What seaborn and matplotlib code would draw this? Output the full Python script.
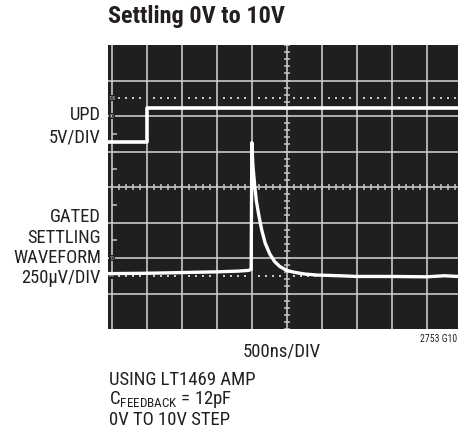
import numpy as np
import pandas as pd
import seaborn as sns
import matplotlib.pyplot as plt

# scope screen coordinates are in divisions (10 x 8)
upd_x = [-0.11, 1.0, 1.0, 9.89]
upd_y = [5.26, 5.26, 6.22, 6.22]

settle_x = [-0.11, 1.0, 2.0, 3.0, 3.6, 3.9, 3.98, 4.0, 4.03, 4.08, 4.13, 4.2,
            4.28, 4.38, 4.51, 4.65, 4.8, 5.0, 5.2, 5.5, 5.85, 6.5, 7.0, 8.0, 9.0, 9.5, 9.89]
settle_y = [1.56, 1.57, 1.59, 1.61, 1.63, 1.65, 1.68, 5.25, 4.6, 4.05, 3.6, 3.2,
            2.8, 2.42, 2.12, 1.9, 1.76, 1.65, 1.6, 1.55, 1.52, 1.5, 1.48, 1.48, 1.47, 1.5, 1.48]

left_labels = ["UPD", "5V/DIV", "GATED", "SETTLING", "WAVEFORM", "250µV/DIV"]
left_label_y = [115, 137, 217, 238, 258, 278]
marker_labels = ["100", "90", "10", "0%"]
marker_y = [6.5, 6.0, 2.0, 1.5]

sns.set_theme(style="dark")
plt.rcParams['font.family'] = ['Roboto Condensed', 'Liberation Sans Narrow', 'Roboto', 'DejaVu Sans']

W, H = 458, 434
fig = plt.figure(figsize=(W / 100, H / 100), dpi=100)
fig.patch.set_facecolor("white")
ax = fig.add_axes([108 / W, (H - 329) / H, 350 / W, 284 / H])
ax.set_facecolor("#1f1f1f")
ax.set_xlim(-0.11, 9.89)
ax.set_ylim(0, 8)

grid_col = "#c8c8c8"
for gx in range(0, 10):
    ax.axvline(gx, color=grid_col, lw=1.2, zorder=1)
for gy in range(1, 8):
    ax.axhline(gy, color=grid_col, lw=1.2, zorder=1)

# center line ticks
tx = np.arange(0, 10.01, 0.2)
ax.vlines(tx, 4 - 0.09, 4 + 0.09, color=grid_col, lw=1.1, zorder=1)
ty = np.arange(0, 8.01, 0.2)
ax.hlines(ty, 5 - 0.09, 5 + 0.09, color=grid_col, lw=1.1, zorder=1)
# half-division marks on left graticule line
ax.hlines([2.5, 3.5, 4.5, 5.5], 0, 0.15, color=grid_col, lw=1.1, zorder=1)

# dotted 0% / 100% lines
dots = [k + j * 0.2 for k in range(0, 10) for j in range(1, 5)]
dots = [d for d in dots if d < 9.89]
for yy in (6.5, 1.5):
    ax.scatter(dots, [yy] * len(dots), s=3, marker="s", color=grid_col, linewidths=0, zorder=1)

for lab, yy in zip(marker_labels, marker_y):
    ax.text(0.0, yy, lab, color=grid_col, fontsize=3.5, ha="center", va="center", zorder=2,
            bbox=dict(facecolor="#1f1f1f", edgecolor="none", pad=0.2))

upd = pd.DataFrame({"x": upd_x, "y": upd_y})
settle = pd.DataFrame({"x": settle_x, "y": settle_y})
sns.lineplot(data=upd, x="x", y="y", ax=ax, color="white", lw=2.6, sort=False,
             estimator=None, zorder=3)
sns.lineplot(data=settle, x="x", y="y", ax=ax, color="white", lw=2.4, sort=False,
             estimator=None, zorder=3)

ax.set_xticks([])
ax.set_yticks([])
ax.set_xlabel("")
ax.set_ylabel("")
for s in ax.spines.values():
    s.set_visible(False)

txt = "#231f20"
fig.text(108 / W, 1 - 16 / H, "Settling 0V to 10V", fontsize=17.5, fontweight="bold",
         color=txt, ha="left", va="center")

for lab, yy in zip(left_labels, left_label_y):
    fig.text(101 / W, 1 - yy / H, lab, fontsize=13.3, color=txt, ha="right", va="center")

fig.text(282 / W, 1 - 352 / H, "500ns/DIV", fontsize=13.5, color=txt, ha="center", va="center")
fig.text(457 / W, 1 - 339 / H, "2753 G10", fontsize=7, color=txt, ha="right", va="center")
fig.text(109 / W, 1 - 380 / H, "USING LT1469 AMP", fontsize=13.5, color=txt, ha="left", va="center")
fig.text(109 / W, 1 - 400 / H, r"C$_{\mathregular{FEEDBACK}}$ = 12pF", fontsize=13.5, color=txt,
         ha="left", va="center")
fig.text(109 / W, 1 - 420 / H, "0V TO 10V STEP", fontsize=13.5, color=txt, ha="left", va="center")

fig.savefig("out.png", dpi=100)
